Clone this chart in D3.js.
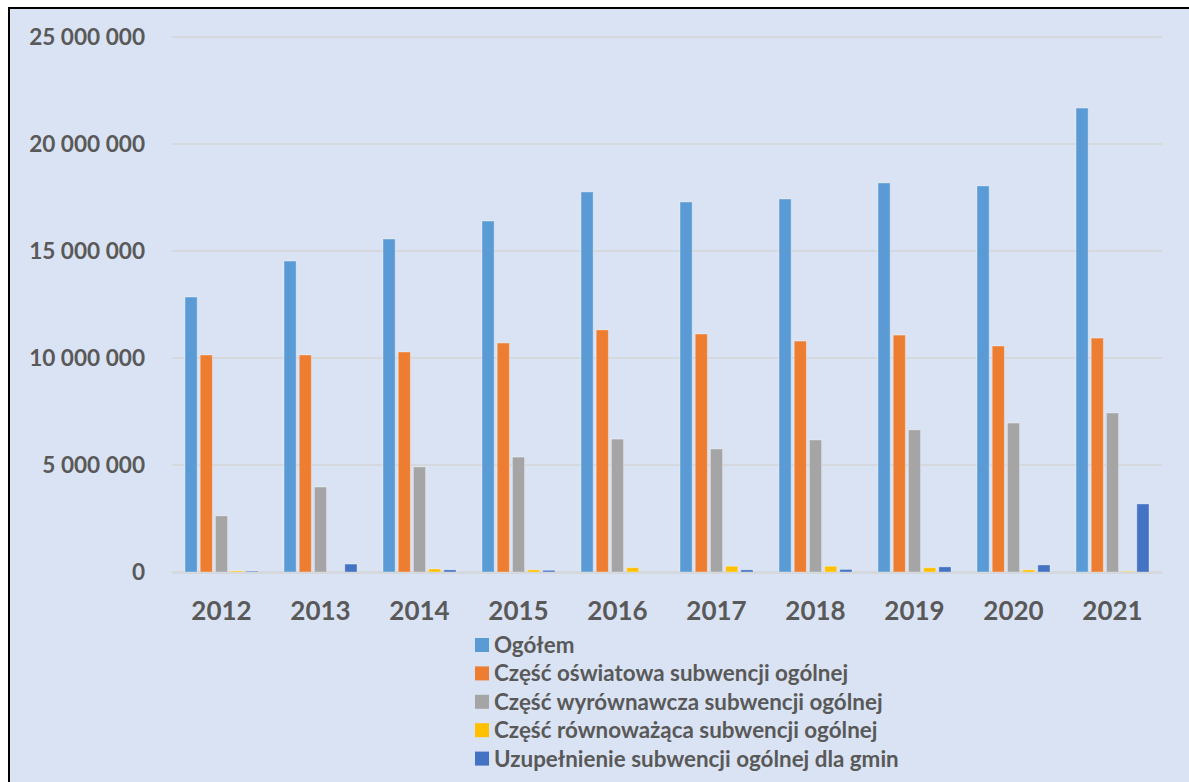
<!DOCTYPE html>
<html>
<head>
  <meta charset="utf-8">
  <title>Subwencja ogólna</title>
  <style>
    body { margin: 0; background: #fff; }
    .tick-label { font-family: Lato, "Open Sans", sans-serif; font-weight: bold; fill: #595959; }
    .legend text { font-family: Lato, "Open Sans", sans-serif; font-weight: bold; fill: #595959; }
  </style>
</head>
<body>
  <svg id="canvas"></svg>
  <script src="https://d3js.org/d3.v7.min.js"></script>
  <script>
    const years = ["2012", "2013", "2014", "2015", "2016", "2017", "2018", "2019", "2020", "2021"];
    const seriesNames = [
      "Ogółem",
      "Część oświatowa subwencji ogólnej",
      "Część wyrównawcza subwencji ogólnej",
      "Część równoważąca subwencji ogólnej",
      "Uzupełnienie subwencji ogólnej dla gmin"
    ];
    const ogolem =       [12850000, 14530000, 15560000, 16400000, 17760000, 17290000, 17430000, 18180000, 18040000, 21680000];
    const oswiatowa =    [10140000, 10140000, 10280000, 10700000, 11310000, 11120000, 10790000, 11070000, 10560000, 10930000];
    const wyrownawcza =  [2620000, 3970000, 4910000, 5370000, 6210000, 5750000, 6170000, 6640000, 6960000, 7430000];
    const rownowazaca =  [50000, 0, 140000, 100000, 200000, 270000, 270000, 200000, 100000, 30000];
    const uzupelnienie = [40000, 370000, 100000, 80000, 0, 100000, 120000, 240000, 330000, 3180000];
    const yTicks = [0, 5000000, 10000000, 15000000, 20000000, 25000000];
    const colors = ["#5b9bd5", "#ed7d31", "#a5a5a5", "#ffc000", "#4472c4"];

    const series = [ogolem, oswiatowa, wyrownawcza, rownowazaca, uzupelnienie];
    const W = 1189, H = 782;
    const plot = { left: 172, right: 1162, top: 37, bottom: 572 };

    const svg = d3.select("#canvas").attr("width", W).attr("height", H);

    // chart area background + frame (top and left edges visible)
    svg.append("rect").attr("x", 9).attr("y", 8).attr("width", W).attr("height", H).attr("fill", "#dae3f3");
    svg.append("line").attr("x1", 8).attr("x2", W).attr("y1", 8).attr("y2", 8).attr("stroke", "#000").attr("stroke-width", 2);
    svg.append("line").attr("x1", 9).attr("x2", 9).attr("y1", 7).attr("y2", H).attr("stroke", "#000").attr("stroke-width", 2);

    const x = d3.scaleBand().domain(years).range([plot.left, plot.right]).padding(0);
    const xi = d3.scaleBand().domain(d3.range(5))
      .range([(x.bandwidth() - 73) / 2, (x.bandwidth() + 73) / 2]).paddingInner(0.2);
    const y = d3.scaleLinear().domain([0, 25000000]).range([plot.bottom, plot.top]);

    const fmt = v => d3.format(",")(v).replace(/,/g, " ");

    // gridlines
    svg.append("g").selectAll("line")
      .data(yTicks)
      .enter().append("line")
      .attr("x1", plot.left).attr("x2", plot.right)
      .attr("y1", d => y(d)).attr("y2", d => y(d))
      .attr("stroke", "#d5d8dc").attr("stroke-width", 2);

    // y tick labels
    svg.append("g").selectAll("text")
      .data(yTicks)
      .enter().append("text")
      .attr("class", "tick-label")
      .attr("x", 145).attr("y", d => y(d))
      .attr("dy", "0.36em")
      .attr("text-anchor", "end")
      .style("font-size", "22.6px")
      .text(fmt);

    // bars
    const groups = svg.append("g").selectAll("g")
      .data(years)
      .enter().append("g")
      .attr("transform", d => "translate(" + x(d) + ",0)");

    groups.selectAll("rect")
      .data((yr, i) => series.map((s, k) => ({ k: k, v: s[i] })))
      .enter().append("rect")
      .attr("x", d => xi(d.k))
      .attr("width", xi.bandwidth())
      .attr("y", d => y(d.v))
      .attr("height", d => plot.bottom - y(d.v))
      .attr("fill", d => colors[d.k])
      .attr("stroke", "rgba(255,255,255,0.35)")
      .attr("stroke-width", 1);

    // baseline
    svg.append("line")
      .attr("x1", plot.left).attr("x2", plot.right)
      .attr("y1", y(0) + 1).attr("y2", y(0) + 1)
      .attr("stroke", "#d5d8dc").attr("stroke-width", 2);

    // x labels
    svg.append("g").selectAll("text")
      .data(years)
      .enter().append("text")
      .attr("class", "tick-label")
      .attr("x", d => x(d) + x.bandwidth() / 2)
      .attr("y", 620)
      .attr("text-anchor", "middle")
      .style("font-size", "26px")
      .text(d => d);

    // legend
    const legend = svg.append("g").attr("class", "legend")
      .attr("transform", "translate(475,638)");
    const li = legend.selectAll("g")
      .data(seriesNames)
      .enter().append("g")
      .attr("transform", (d, i) => "translate(0," + (i * 28.4) + ")");
    li.append("rect").attr("width", 14).attr("height", 14).attr("fill", (d, i) => colors[i]);
    li.append("text")
      .attr("x", 19).attr("y", 7).attr("dy", "0.36em")
      .style("font-size", "22.4px")
      .text(d => d);
  </script>
</body>
</html>
